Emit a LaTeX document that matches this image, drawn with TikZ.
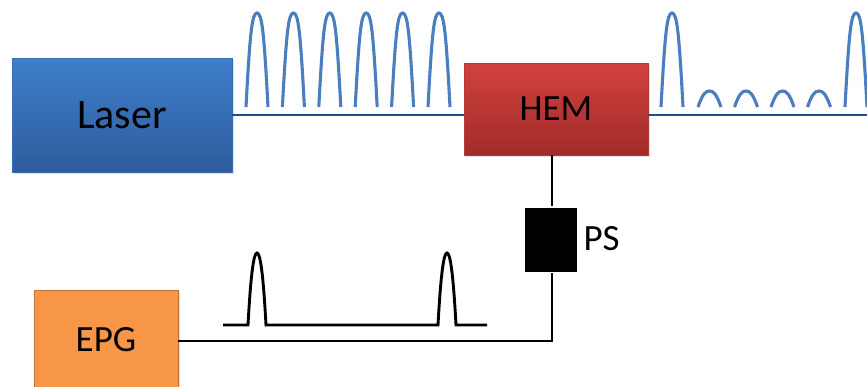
\documentclass[tikz,border=0pt]{standalone}
\usepackage{fontspec}
\setmainfont{Carlito}
\usetikzlibrary{shadows}
\definecolor{laserTop}{HTML}{3F7FCC}
\definecolor{laserBot}{HTML}{2D5C9C}
\definecolor{laserEdge}{HTML}{3A6FB0}
\definecolor{hemTop}{HTML}{D2423F}
\definecolor{hemBot}{HTML}{A12B29}
\definecolor{hemEdge}{HTML}{B83A37}
\definecolor{epgFill}{HTML}{F79646}
\definecolor{epgEdge}{HTML}{C0733A}
\definecolor{pulseBlue}{HTML}{4A7EBF}
\definecolor{lineBlue}{HTML}{1F4E8C}
\begin{document}
\begin{tikzpicture}[x=1pt,y=-1pt,
  box/.style={draw, line width=0.8pt, inner sep=0pt, outer sep=0pt,
    drop shadow={opacity=0.25, shadow xshift=1.5pt, shadow yshift=-1.5pt}},
  lbl/.style={font=\fontsize{37}{40}\selectfont, text=black},
  pulse/.style={draw=pulseBlue, line width=3.1pt},
  fibre/.style={draw=lineBlue, line width=2.8pt},
  wire/.style={draw=black, line width=2.9pt},
  bigpulse/.pic={\draw[pulse] (-11,0) .. controls (-7,-75) and (-5,-94) .. (0,-94) .. controls (5,-94) and (7,-75) .. (11,0);},
  smallpulse/.pic={\draw[pulse] (-11.5,0) .. controls (-7,-13) and (-4,-16) .. (0,-16) .. controls (4,-16) and (7,-13) .. (11.5,0);},
  epgpulse/.style={draw=black, line width=2.9pt, line join=miter}
]
\useasboundingbox (0,0) rectangle (867,386);

% boxes
\node[box, draw=laserEdge, top color=laserTop, bottom color=laserBot,
      minimum width=220pt, minimum height=114pt, anchor=north west] (laser) at (12,58) {};
\node[lbl, font=\fontsize{42}{44}\selectfont] (laserlbl) at (laser.center) {Laser};

\node[box, draw=hemEdge, top color=hemTop, bottom color=hemBot,
      minimum width=184pt, minimum height=92pt, anchor=north west] (hem) at (464,63) {};
\node[lbl] (hemlbl) at (hem.center) {HEM};

\node[box, draw=epgEdge, fill=epgFill,
      minimum width=144pt, minimum height=102pt, anchor=north west] (epg) at (34,290) {};
\node[lbl] (epglbl) at ([yshift=1pt]epg.center) {EPG};

\node[draw=white, fill=black, line width=3pt, inner sep=0pt, outer sep=0pt,
      minimum width=55pt, minimum height=67pt, anchor=north west,
      drop shadow={opacity=0.3, shadow xshift=1pt, shadow yshift=-1pt}] (ps) at (523,206) {};
\node[lbl, anchor=west] (pslbl) at (580,239) {PS};

% fibre lines
\coordinate (fibreEnd) at (867,115);
\draw[fibre] (laser.east |- 0,115) -- (hem.west |- 0,115);
\draw[fibre] (hem.east |- 0,115) -- (fibreEnd);

% wires
\draw[wire] (ps.north -| 552,0) -- (hem.south -| 552,0);
\draw[wire] (ps.south -| 552,0) |- (epg.east |- 0,341);

% optical pulses before HEM
\foreach \c in {257,293.4,329.8,366.2,402.6,439}
  \pic at (\c,107) {bigpulse};
% optical pulses after HEM
\pic at (672,107) {bigpulse};
\foreach \c in {709.5,746,782.5,819}
  \pic at (\c,107) {smallpulse};
\pic at (856,107) {bigpulse};

% electrical pulse train
\draw[epgpulse] (223,325) -- (248,325)
  .. controls (251,270) and (254,253) .. (257,253)
  .. controls (260,253) and (263,270) .. (266,325)
  -- (438,325)
  .. controls (441,270) and (444,253) .. (447,253)
  .. controls (450,253) and (453,270) .. (456,325)
  -- (487,325);
\end{tikzpicture}
\end{document}
